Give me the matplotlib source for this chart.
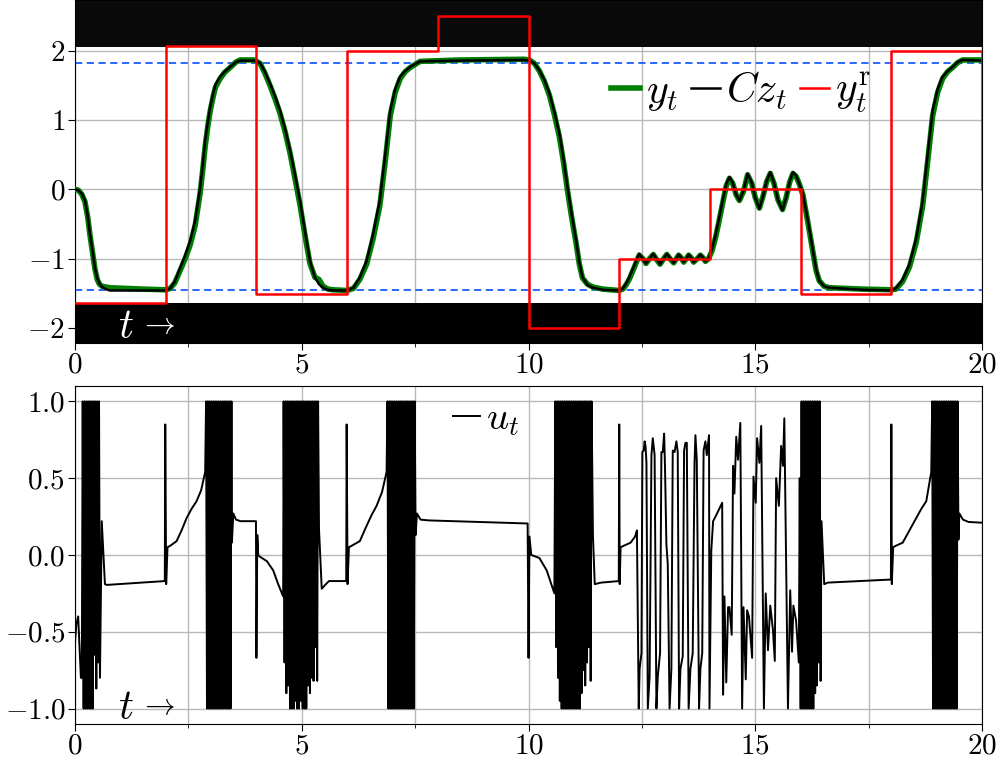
import numpy as np
import matplotlib
matplotlib.use('Agg')
import matplotlib.pyplot as plt

plt.rcParams['font.family'] = 'serif'
plt.rcParams['font.serif'] = ['cmr10']
plt.rcParams['mathtext.fontset'] = 'cm'
plt.rcParams['axes.formatter.use_mathtext'] = True
plt.rcParams['axes.unicode_minus'] = True

# ---- top panel: output, model output, reference ----
t_top = [0.0, 0.07, 0.15, 0.22, 0.28, 0.33, 0.39, 0.44, 0.49, 0.54, 0.6, 0.68, 0.77, 1.5, 2.0,
         2.1, 2.2, 2.32, 2.43, 2.54, 2.65, 2.76, 2.82, 2.87, 2.93, 2.98, 3.05, 3.1, 3.2, 3.3, 3.42, 3.55, 3.64, 3.95,
         4.08, 4.18, 4.3, 4.41, 4.52, 4.63, 4.74, 4.85, 4.96, 5.07, 5.18, 5.29, 5.38, 5.47, 5.58, 5.69, 6.0,
         6.14, 6.28, 6.43, 6.57, 6.72, 6.84, 6.95, 7.06, 7.17, 7.28, 7.39, 7.61, 8.5, 9.9,
         10.02, 10.13, 10.24, 10.35, 10.46, 10.57, 10.68, 10.77, 10.86, 10.95, 11.05, 11.12, 11.19, 11.3, 11.42, 11.64, 12.0,
         12.08, 12.15, 12.22, 12.33, 12.44, 12.52, 12.59, 12.67, 12.75, 12.83, 12.9, 12.98, 13.05, 13.13, 13.2, 13.26,
         13.31, 13.37, 13.42, 13.48, 13.53, 13.59, 13.64, 13.72, 13.79, 13.85, 13.9, 13.97,
         14.05, 14.13, 14.2, 14.28, 14.36, 14.43, 14.5, 14.58, 14.65, 14.74, 14.83, 14.92, 15.0, 15.09, 15.17, 15.25,
         15.33, 15.41, 15.5, 15.6, 15.68, 15.76, 15.83, 15.9, 15.97, 16.05, 16.16, 16.27, 16.34, 16.41, 16.52, 16.63,
         17.37, 18.0,
         18.1, 18.25, 18.4, 18.55, 18.69, 18.8, 18.91, 19.02, 19.13, 19.24, 19.35, 19.46, 19.57, 20.0]

cz_vals = [0.0, -0.01, -0.06, -0.16, -0.38, -0.64, -0.9, -1.13, -1.28, -1.36, -1.41, -1.44, -1.46, -1.46, -1.46,
           -1.43, -1.33, -1.13, -0.95, -0.74, -0.45, 0.03, 0.38, 0.71, 0.98, 1.19, 1.4, 1.52, 1.63, 1.7, 1.77, 1.84, 1.86, 1.86,
           1.83, 1.71, 1.53, 1.35, 1.14, 0.88, 0.57, 0.22, -0.16, -0.6, -1.03, -1.27, -1.37, -1.42, -1.45, -1.46, -1.46,
           -1.42, -1.27, -1.03, -0.65, -0.16, 0.5, 1.14, 1.45, 1.63, 1.71, 1.77, 1.85, 1.86, 1.87,
           1.86, 1.82, 1.72, 1.58, 1.39, 1.12, 0.81, 0.45, 0.03, -0.35, -0.74, -1.05, -1.27, -1.38, -1.42, -1.45, -1.46,
           -1.43, -1.36, -1.27, -1.1, -0.93, -1.0, -1.07, -1.0, -0.93, -1.01, -1.08, -1.0, -0.93, -1.0, -1.06, -1.0,
           -0.94, -0.99, -1.05, -1.0, -0.94, -0.99, -1.05, -1.0, -0.94, -0.99, -1.04, -1.0,
           -0.85, -0.64, -0.42, -0.16, 0.08, 0.18, 0.1, -0.08, -0.16, -0.02, 0.23, 0.1, -0.12, -0.28, -0.1, 0.12,
           0.25, 0.1, -0.15, -0.3, -0.12, 0.12, 0.25, 0.2, 0.08, -0.06, -0.45, -0.88, -1.15, -1.32, -1.4, -1.42,
           -1.45, -1.46,
           -1.43, -1.3, -1.08, -0.7, -0.16, 0.5, 1.14, 1.45, 1.63, 1.71, 1.77, 1.84, 1.87, 1.86]

y_vals = [0.0, -0.01, -0.07, -0.18, -0.4, -0.66, -0.93, -1.15, -1.3, -1.37, -1.4, -1.41, -1.42, -1.44, -1.45,
          -1.43, -1.35, -1.17, -1.0, -0.8, -0.52, -0.05, 0.3, 0.62, 0.92, 1.13, 1.35, 1.48, 1.6, 1.69, 1.76, 1.84, 1.87, 1.87,
          1.82, 1.69, 1.5, 1.31, 1.1, 0.84, 0.53, 0.16, -0.22, -0.66, -1.07, -1.27, -1.3, -1.4, -1.44, -1.45, -1.46,
          -1.43, -1.3, -1.08, -0.72, -0.24, 0.4, 1.06, 1.4, 1.6, 1.7, 1.76, 1.85, 1.87, 1.88,
          1.87, 1.82, 1.71, 1.56, 1.36, 1.08, 0.76, 0.4, -0.02, -0.4, -0.78, -1.08, -1.28, -1.37, -1.41, -1.44, -1.46,
          -1.44, -1.38, -1.3, -1.13, -0.95, -1.0, -1.07, -1.0, -0.94, -1.02, -1.08, -1.0, -0.94, -1.01, -1.06, -1.0,
          -0.95, -0.99, -1.05, -1.0, -0.95, -0.99, -1.05, -1.0, -0.95, -0.99, -1.04, -1.0,
          -0.88, -0.68, -0.46, -0.2, 0.05, 0.16, 0.09, -0.08, -0.16, -0.03, 0.21, 0.09, -0.12, -0.27, -0.1, 0.11,
          0.23, 0.09, -0.15, -0.29, -0.12, 0.11, 0.23, 0.19, 0.08, -0.08, -0.48, -0.9, -1.17, -1.32, -1.4, -1.42,
          -1.44, -1.45,
          -1.44, -1.33, -1.12, -0.76, -0.24, 0.4, 1.06, 1.4, 1.6, 1.7, 1.76, 1.83, 1.87, 1.87]

t_ref = [0, 2, 4, 6, 8, 10, 12, 14, 16, 18, 20]
y_ref = [-1.645, 2.07, -1.51, 2.0, 2.5, -2.0, -1.0, 0.0, -1.51, 2.0, 0.0]

y_bound_hi = 1.83
y_bound_lo = -1.46
band_hi = 2.06
band_lo = -1.636

# ---- bottom panel: input u_t ----
u0_t = [0.0, 0.03, 0.07, 0.13, 0.15]
u0_v = [-0.57, -0.45, -0.4, -0.8, -0.8]
burstA_t = [0.17, 0.19, 0.21, 0.23, 0.25, 0.27, 0.29, 0.31, 0.33, 0.35, 0.37, 0.39, 0.41, 0.43, 0.45, 0.47,
            0.49, 0.51, 0.53, 0.55]
burstA_v = [1, -1, 1, -1, 1, -1, 1, -1, 1, -1, 1, -1, 1, -0.65, 1, -0.87, 1, -0.7, 1, -0.8]
u1_t = [0.59, 0.66, 0.7, 1.2, 1.98, 1.99, 2.01, 2.04, 2.1, 2.24, 2.35, 2.46, 2.57, 2.68, 2.78, 2.87]
u1_v = [0.22, -0.19, -0.195, -0.185, -0.17, 0.85, -0.19, 0.05, 0.06, 0.09, 0.16, 0.24, 0.3, 0.35, 0.42, 0.54]
burstB_t = [2.89, 2.91, 2.93, 2.95, 2.97, 2.99, 3.01, 3.03, 3.05, 3.07, 3.09, 3.11, 3.13, 3.15, 3.17, 3.19,
            3.21, 3.23, 3.25, 3.27, 3.29, 3.31, 3.33, 3.35, 3.37, 3.39, 3.41, 3.43, 3.45]
burstB_v = [1, -1, 1, -1, 1, -1, 1, -1, 1, -1, 1, -1, 1, -1, 1, -1, 1, -1, 1, -1, 1, -1, 1, -1, 1, -1, 1, -1, 1]
u2_t = [3.46, 3.49, 3.55, 3.65, 3.99, 4.0, 4.02, 4.04, 4.07, 4.23, 4.37, 4.48, 4.59]
u2_v = [0.08, 0.27, 0.23, 0.22, 0.22, -0.67, 0.13, 0.0, -0.01, -0.04, -0.1, -0.19, -0.27]
burstC_t = [4.60, 4.62, 4.64, 4.66, 4.68, 4.70, 4.72, 4.74, 4.76, 4.78, 4.80, 4.82, 4.84, 4.86, 4.88, 4.90,
            4.92, 4.94, 4.96, 4.98, 5.00, 5.02, 5.04, 5.06, 5.08, 5.10, 5.12, 5.14, 5.16, 5.18, 5.20, 5.22,
            5.24, 5.26, 5.28, 5.30, 5.32, 5.34, 5.36]
burstC_v = [1, -0.7, 1, -0.9, 1, -0.85, 1, -1, 1, -1, 1, -1, 1, -0.95, 1, -1, 1, -1, 1, -0.95, 1, -1, 1, -1,
            1, -1, 1, -0.85, 1, -0.9, 1, -0.8, 1, -0.82, 1, -0.6, 1, -0.82, 1]
u3_t = [5.38, 5.44, 5.5, 5.6, 5.98, 5.99, 6.01, 6.04, 6.1, 6.28, 6.43, 6.54, 6.65, 6.77, 6.87]
u3_v = [0.17, -0.22, -0.2, -0.17, -0.17, 0.85, -0.19, 0.05, 0.06, 0.09, 0.19, 0.26, 0.32, 0.41, 0.54]
burstD_t = [6.89, 6.91, 6.93, 6.95, 6.97, 6.99, 7.01, 7.03, 7.05, 7.07, 7.09, 7.11, 7.13, 7.15, 7.17, 7.19,
            7.21, 7.23, 7.25, 7.27, 7.29, 7.31, 7.33, 7.35, 7.37, 7.39, 7.41, 7.43, 7.45, 7.47, 7.49]
burstD_v = [1, -1, 1, -1, 1, -1, 1, -1, 1, -1, 1, -1, 1, -1, 1, -1, 1, -1, 1, -1, 1, -1, 1, -1, 1, -1, 1, -1,
            1, -1, 1]
u4_t = [7.51, 7.54, 7.62, 7.8, 9.98, 10.0, 10.02, 10.06, 10.24, 10.4, 10.57]
u4_v = [0.13, 0.27, 0.23, 0.225, 0.205, -0.67, 0.12, 0.0, -0.02, -0.1, -0.25]
burstE_t = [10.59, 10.61, 10.63, 10.65, 10.67, 10.69, 10.71, 10.73, 10.75, 10.77, 10.79, 10.81, 10.83, 10.85,
            10.87, 10.89, 10.91, 10.93, 10.95, 10.97, 10.99, 11.01, 11.03, 11.05, 11.07, 11.09, 11.11, 11.13,
            11.15, 11.17, 11.19, 11.21, 11.23, 11.25, 11.27, 11.29, 11.31, 11.33, 11.35, 11.37, 11.39]
burstE_v = [1, -0.6, 1, -0.8, 1, -0.95, 1, -1, 1, -1, 1, -1, 1, -1, 1, -1, 1, -1, 1, -1, 1, -1, 1, -1, 1, -1,
            1, -1, 1, -0.9, 1, -0.75, 1, -0.85, 1, -0.7, 1, -0.6, 1, -0.82, 1]
u5_t = [11.42, 11.46, 11.6, 11.99, 12.0, 12.01, 12.03, 12.1, 12.25, 12.35, 12.39]
u5_v = [0.13, -0.19, -0.18, -0.17, 0.85, -0.19, 0.05, 0.06, 0.08, 0.12, 0.16]
osc_t = [12.43, 12.45, 12.49, 12.51, 12.54, 12.56, 12.58, 12.6, 12.63, 12.67, 12.71, 12.74, 12.78, 12.82,
         12.85, 12.9, 12.93, 12.96, 12.99, 13.01, 13.04, 13.07, 13.11, 13.15, 13.18, 13.22, 13.26, 13.29,
         13.32, 13.35, 13.4, 13.43, 13.46, 13.49, 13.53, 13.57, 13.62, 13.66, 13.68, 13.71, 13.76, 13.79,
         13.83, 13.86, 13.9, 13.93, 13.98, 13.99, 14.03, 14.07, 14.14, 14.27, 14.29, 14.32, 14.36, 14.4,
         14.43, 14.48, 14.51, 14.54, 14.58, 14.62, 14.67, 14.71, 14.74, 14.79, 14.82, 14.86, 14.93, 14.96,
         15.01, 15.04, 15.09, 15.13, 15.19, 15.23, 15.28, 15.33, 15.39, 15.43, 15.46, 15.52, 15.57, 15.61,
         15.64, 15.72, 15.77, 15.81, 15.84, 15.9, 15.96]
osc_v = [-1.0, -0.74, -0.64, 0.67, 0.68, 0.74, 0.71, 0.6, -1.0, -0.79, 0.65, 0.76, 0.65, -1.0,
         -0.79, -0.64, 0.67, 0.67, 0.79, 0.56, 0.07, -0.06, -1.0, -0.74, 0.68, 0.67, 0.74, 0.67,
         -1.0, -0.74, -0.66, 0.68, 0.73, 0.73, -1.0, -0.74, -0.64, 0.6, 0.78, 0.62, -1.0, -0.74,
         -0.64, 0.68, 0.74, 0.65, 0.78, -1.0, 0.03, 0.22, 0.26, 0.34, -0.91, -0.27, -0.83, -0.34,
         -0.34, -0.52, 0.58, 0.4, 0.77, 0.62, 0.86, -1.0, -0.34, -0.81, -0.36, -0.4, -0.67, 0.51,
         0.34, 0.76, 0.6, 0.84, -1.0, -0.25, -0.62, -0.33, -0.49, -0.69, 0.5, 0.32, 0.71, 0.58,
         0.89, -1.0, -0.23, -0.63, -0.33, -0.43, -0.7]
burstF_t = [15.98, 16.00, 16.02, 16.04, 16.06, 16.08, 16.10, 16.12, 16.14, 16.16, 16.18, 16.20, 16.22, 16.24,
            16.26, 16.28, 16.30, 16.32, 16.34, 16.36, 16.38, 16.40, 16.42, 16.44]
burstF_v = [0.5, -1, 1, -1, 1, -1, 1, -1, 1, -1, 1, -1, 1, -1, 1, -1, 1, -0.9, 1, -0.85, 1, -0.7, 1, -0.82]
u6_t = [16.46, 16.52, 16.6, 17.99, 18.0, 18.01, 18.04, 18.1, 18.25, 18.4, 18.55, 18.66, 18.77, 18.88]
u6_v = [0.22, -0.19, -0.18, -0.16, 0.85, -0.19, 0.05, 0.06, 0.08, 0.16, 0.24, 0.3, 0.35, 0.54]
burstG_t = [18.90, 18.92, 18.94, 18.96, 18.98, 19.00, 19.02, 19.04, 19.06, 19.08, 19.10, 19.12, 19.14, 19.16,
            19.18, 19.20, 19.22, 19.24, 19.26, 19.28, 19.30, 19.32, 19.34, 19.36, 19.38, 19.40, 19.42, 19.44,
            19.46]
burstG_v = [1, -1, 1, -1, 1, -1, 1, -1, 1, -1, 1, -1, 1, -1, 1, -1, 1, -1, 1, -1, 1, -1, 1, -1, 1, -1, 1, -1, 1]
u7_t = [19.48, 19.5, 19.58, 19.7, 20.0]
u7_v = [0.1, 0.27, 0.23, 0.215, 0.21]

u_time = np.concatenate([u0_t, burstA_t, u1_t, burstB_t, u2_t, burstC_t, u3_t, burstD_t, u4_t,
                         burstE_t, u5_t, osc_t, burstF_t, u6_t, burstG_t, u7_t])
u_vals = np.concatenate([u0_v, burstA_v, u1_v, burstB_v, u2_v, burstC_v, u3_v, burstD_v, u4_v,
                         burstE_v, u5_v, osc_v, burstF_v, u6_v, burstG_v, u7_v])

fig = plt.figure(figsize=(9.96, 7.62), dpi=100)
ax1 = fig.add_axes([0.0753, 0.550, 0.9107, 0.450])
ax2 = fig.add_axes([0.0753, 0.0500, 0.9107, 0.4434])

# top
ax1.set_axisbelow(True)
ax1.axhspan(band_hi, 3.0, color='#0a0a0a', lw=0, zorder=1)
ax1.axhspan(-3.0, band_lo, color='black', lw=0, zorder=1)
ax1.axhline(y_bound_hi, color='#1a5cff', ls='--', lw=1.3, dashes=(4, 2.5), zorder=2)
ax1.axhline(y_bound_lo, color='#1a5cff', ls='--', lw=1.3, dashes=(4, 2.5), zorder=2)
ax1.plot(t_top, y_vals, color='green', lw=4, label=r'$y_t$', zorder=3)
ax1.plot(t_top, cz_vals, color='black', lw=1.8, label=r'$Cz_t$', zorder=4)
ax1.plot(t_ref, y_ref, color='red', lw=1.8, drawstyle='steps-post', label=r'$y^{\mathrm{r}}_t$', zorder=5)
ax1.set_xlim(0, 20)
ax1.set_ylim(-2.217, 2.736)
ax1.set_yticks([-2, -1, 0, 1, 2])
ax1.set_xticks([0, 5, 10, 15, 20])
ax1.set_xticks([2.5, 7.5, 12.5, 17.5], minor=True)
ax1.grid(True, which='both', color='#b8b8b8', lw=1.0)
ax1.legend(loc='center', bbox_to_anchor=(0.734, 0.73), ncol=3, frameon=False, fontsize=30,
           handlelength=0.7, handletextpad=0.15, columnspacing=0.3, borderpad=0.1)

# bottom
ax2.set_axisbelow(True)
ax2.plot(u_time, u_vals, color='black', lw=1.4, label=r'$u_t$')
ax2.set_xlim(0, 20)
ax2.set_ylim(-1.1, 1.1)
ax2.set_yticks([-1.0, -0.5, 0.0, 0.5, 1.0])
ax2.set_xticks([0, 5, 10, 15, 20])
ax2.set_xticks([2.5, 7.5, 12.5, 17.5], minor=True)
ax2.grid(True, which='both', color='#b8b8b8', lw=1.0)
ax2.legend(loc='center', bbox_to_anchor=(0.453, 0.9), frameon=False, fontsize=28,
           handlelength=0.7, handletextpad=0.15, borderpad=0.1)

for ax, col in ((ax1, 'white'), (ax2, 'black')):
    ax.text(0.047, 0.015, r'$t$', color=col, fontsize=30, va='baseline', transform=ax.transAxes)
    ax.text(0.071, 0.03, r'$\rightarrow$', color=col, fontsize=22, va='baseline', transform=ax.transAxes)
    ax.tick_params(labelsize=21, length=5, pad=2)
    ax.tick_params(which='minor', length=3)

fig.savefig('out.png', dpi=100)
